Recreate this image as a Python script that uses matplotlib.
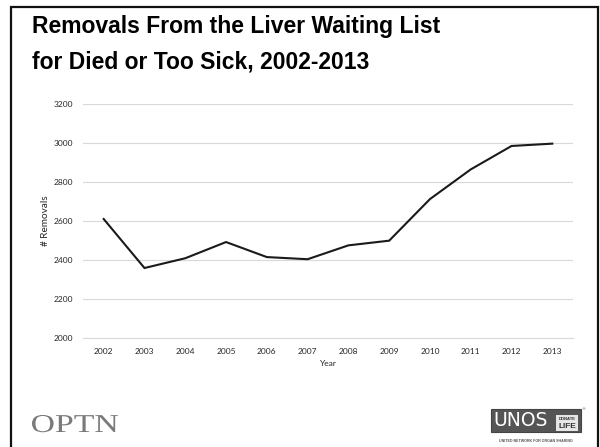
import matplotlib
matplotlib.use("Agg")
import matplotlib.pyplot as plt
from matplotlib.patches import Rectangle, PathPatch
from matplotlib.textpath import TextPath
from matplotlib.font_manager import FontProperties
from matplotlib.transforms import Affine2D

years = [2002, 2003, 2004, 2005, 2006, 2007, 2008, 2009, 2010, 2011, 2012, 2013]
removals = [2611, 2360, 2410, 2493, 2416, 2405, 2476, 2500, 2713, 2865, 2985, 2997]
y_ticks = [2000, 2200, 2400, 2600, 2800, 3000, 3200]

W, H = 600, 447
fig = plt.figure(figsize=(W / 100, H / 100), dpi=100)


def fx(px):
    return px / W


def fy(py):
    return 1 - py / H


# slide frame
fig.patches.append(Rectangle((fx(11), fy(460)), fx(598) - fx(11), fy(7) - fy(460),
                             transform=fig.transFigure, fill=False,
                             edgecolor="#111111", lw=1.6))

fig.text(fx(32), fy(33), "Removals From the Liver Waiting List",
         fontsize=16.5, fontweight="bold", family="Liberation Sans", va="baseline")
fig.text(fx(32), fy(68), "for Died or Too Sick, 2002-2013",
         fontsize=16.5, fontweight="bold", family="Liberation Sans", va="baseline")

ax = fig.add_axes([fx(83.3), fy(338.3), fx(572.7) - fx(83.3), fy(104) - fy(338.3)])
xs = list(range(len(years)))
ax.plot(xs, removals, color="#1a1a1a", lw=1.5, solid_joinstyle="miter")
ax.set_xlim(-0.5, len(years) - 0.5)
ax.set_ylim(2000, 3200)
ax.set_yticks(y_ticks)
ax.set_xticks(xs)
ax.set_xticklabels([str(y) for y in years])
ax.grid(axis="y", color="#d9d9d9", lw=0.8)
ax.set_axisbelow(True)
for s in ["top", "right", "left"]:
    ax.spines[s].set_visible(False)
ax.spines["bottom"].set_color("#d9d9d9")
ax.spines["bottom"].set_linewidth(0.8)
ax.tick_params(length=0, labelsize=6, colors="#262626", pad=7)
for lab in ax.get_xticklabels() + ax.get_yticklabels():
    lab.set_family("Lato")
ax.set_ylabel("# Removals", fontsize=7.2, family="Lato", color="#262626", labelpad=3)
ax.set_xlabel("Year", fontsize=6, family="Lato", color="#262626", labelpad=3.5)

# footer: OPTN, stretched wide like the slide logo
tp = TextPath((0, 0), "OPTN", size=10, prop=FontProperties(family="Liberation Serif"))
bb = tp.get_extents()
sx = (118 - 32) / bb.width
sy = (432 - 415) / 6.6  # cap height of a size-10 serif ~6.6
tr = Affine2D().translate(-bb.x0, 0).scale(sx, sy).translate(32, H - 432)
fig.patches.append(PathPatch(tr.transform_path(tp), facecolor="#7a7a7a",
                             edgecolor="none", transform=None))

# footer: UNOS logo
fig.patches.append(Rectangle((fx(491), fy(432)), fx(581) - fx(491), fy(409) - fy(432),
                             transform=fig.transFigure, facecolor="#555555",
                             edgecolor="#444444", lw=0.8))
fig.text(fx(521), fy(421), "UNOS", fontsize=13.5, family="Liberation Sans Narrow",
         color="white", ha="center", va="center")
fig.patches.append(Rectangle((fx(556), fy(431)), fx(578) - fx(556), fy(415) - fy(431),
                             transform=fig.transFigure, facecolor="#e6e6e6",
                             edgecolor="none"))
fig.text(fx(567), fy(419), "DONATE", fontsize=3, family="Liberation Sans",
         fontweight="bold", color="#333333", ha="center", va="center")
fig.text(fx(567), fy(426.5), "LIFE", fontsize=6, family="Liberation Sans",
         fontweight="bold", color="#333333", ha="center", va="center")
fig.text(fx(583), fy(409), "\u00ae", fontsize=3, color="#555555", ha="center", va="center")
fig.text(fx(536), fy(441.5), "UNITED NETWORK FOR ORGAN SHARING", fontsize=2.6,
         family="Liberation Sans", fontweight="bold", color="#555555",
         ha="center", va="center")

fig.savefig("out.png", dpi=100)
